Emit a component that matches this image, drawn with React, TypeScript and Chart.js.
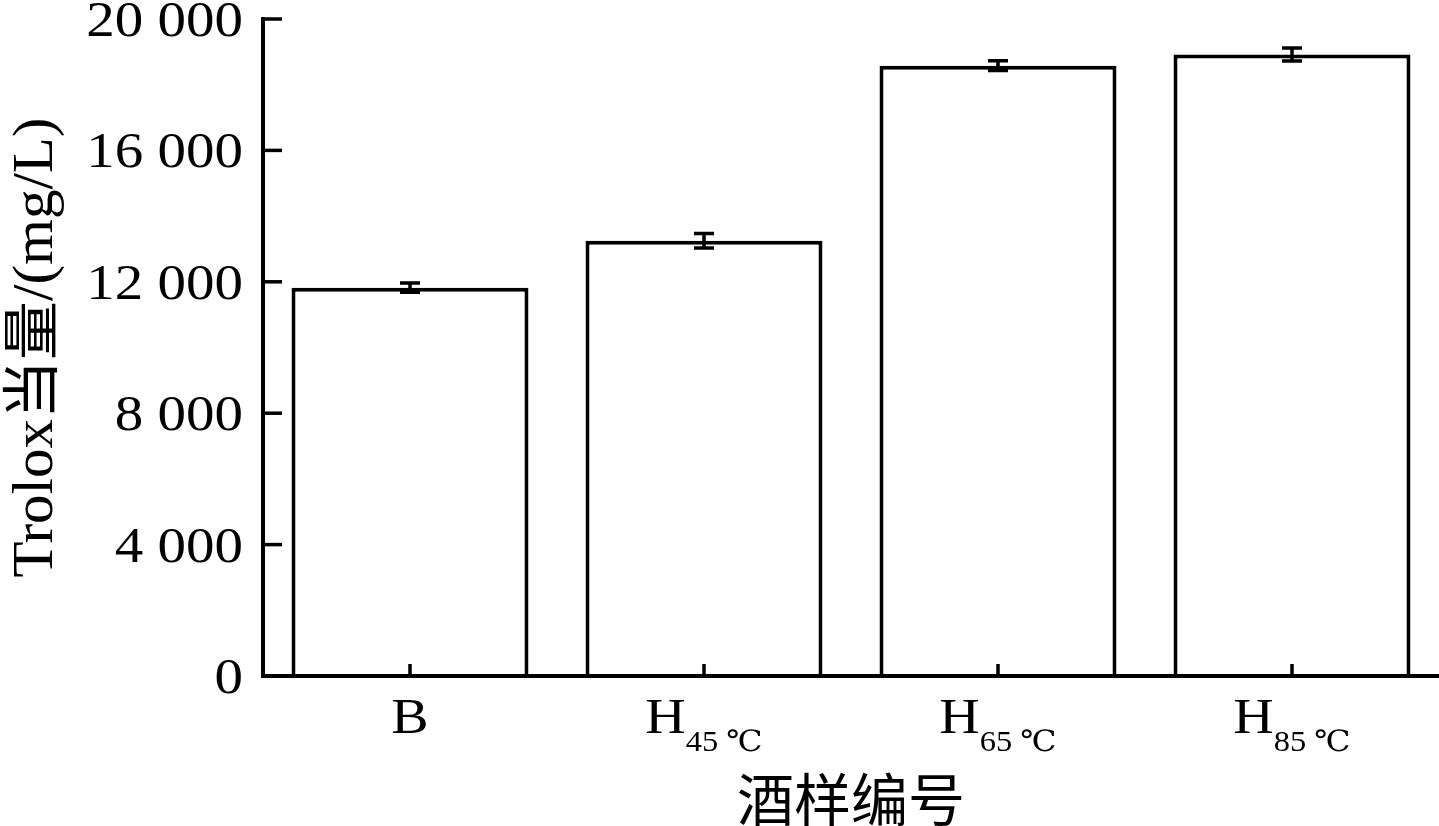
import React, { useEffect, useRef } from 'react';
import { Chart, registerables } from 'chart.js';

Chart.register(...registerables);

const categories = ['B', 'H45', 'H65', 'H85'];
const labelMain = ['B', 'H', 'H', 'H'];
const labelSub = ['', '45 ℃', '65 ℃', '85 ℃'];
const values = [11820, 13250, 18580, 18920];
const errors = [140, 220, 150, 200];
const yTicks = [0, 4000, 8000, 12000, 16000, 20000];
const yTickLabels = ['0', '4 000', '8 000', '12 000', '16 000', '20 000'];
const xTitle = '酒样编号';
const yTitle = 'Trolox当量/(mg/L)';

const SERIF = '"Liberation Serif", "DejaVu Serif", "Noto Sans CJK SC", serif';

function drawStretched(
  ctx: CanvasRenderingContext2D,
  text: string,
  x: number,
  y: number,
  font: string,
  sx: number,
  align: 'left' | 'right' | 'center'
) {
  ctx.save();
  ctx.font = font;
  ctx.textBaseline = 'alphabetic';
  ctx.textAlign = 'left';
  const w = ctx.measureText(text).width * sx;
  let x0 = x;
  if (align === 'right') x0 = x - w;
  else if (align === 'center') x0 = x - w / 2;
  ctx.translate(x0, y);
  ctx.scale(sx, 1);
  ctx.fillText(text, 0, 0);
  ctx.restore();
  return w;
}

export default function App() {
  const ref = useRef<HTMLCanvasElement>(null);

  useEffect(() => {
    const canvas = ref.current;
    if (!canvas) return;

    const overlay = {
      id: 'overlay',
      afterDatasetsDraw(chart: any) {
        const ctx: CanvasRenderingContext2D = chart.ctx;
        const xs = chart.scales.x;
        const ys = chart.scales.y;
        const area = chart.chartArea;
        ctx.save();
        ctx.strokeStyle = '#000';
        ctx.fillStyle = '#000';
        ctx.lineCap = 'butt';

        // error bars
        ctx.lineWidth = 3.5;
        values.forEach((v, i) => {
          const x = xs.getPixelForValue(i);
          const yHi = ys.getPixelForValue(v + errors[i]);
          const yLo = ys.getPixelForValue(v - errors[i]);
          ctx.beginPath();
          ctx.moveTo(x, yHi);
          ctx.lineTo(x, yLo);
          ctx.moveTo(x - 10, yHi);
          ctx.lineTo(x + 10, yHi);
          ctx.moveTo(x - 10, yLo);
          ctx.lineTo(x + 10, yLo);
          ctx.stroke();
        });

        // axes
        ctx.lineWidth = 4;
        const yTop = ys.getPixelForValue(yTicks[yTicks.length - 1]);
        const yBot = ys.getPixelForValue(0);
        ctx.beginPath();
        ctx.moveTo(area.left, yTop - 2);
        ctx.lineTo(area.left, yBot + 2);
        ctx.moveTo(area.left - 2, yBot);
        ctx.lineTo(area.right, yBot);
        ctx.stroke();

        // y ticks (inward)
        ctx.lineWidth = 3.5;
        yTicks.forEach((t) => {
          const y = ys.getPixelForValue(t);
          ctx.beginPath();
          ctx.moveTo(area.left, y);
          ctx.lineTo(area.left + 19, y);
          ctx.stroke();
        });
        // x ticks (inward)
        categories.forEach((_, i) => {
          const x = xs.getPixelForValue(i);
          ctx.beginPath();
          ctx.moveTo(x, yBot);
          ctx.lineTo(x, yBot - 12);
          ctx.stroke();
        });

        // y tick labels
        yTicks.forEach((t, i) => {
          const y = ys.getPixelForValue(t);
          drawStretched(ctx, yTickLabels[i], area.left - 20, y + 17, `50px ${SERIF}`, 1.14, 'right');
        });

        // x tick labels with subscripts
        categories.forEach((_, i) => {
          const x = xs.getPixelForValue(i);
          const mainFont = `50px ${SERIF}`;
          const subFont = `29px ${SERIF}`;
          const sx = 1.12;
          ctx.font = mainFont;
          const wMain = ctx.measureText(labelMain[i]).width * sx;
          let wSub = 0;
          if (labelSub[i]) {
            ctx.font = subFont;
            wSub = ctx.measureText(labelSub[i]).width * sx;
          }
          const total = wMain + wSub;
          const x0 = x - total / 2;
          drawStretched(ctx, labelMain[i], x0, yBot + 57, mainFont, sx, 'left');
          if (labelSub[i]) {
            drawStretched(ctx, labelSub[i], x0 + wMain, yBot + 75, subFont, sx, 'left');
          }
        });

        // x title
        ctx.font = '57px "Noto Sans CJK SC", sans-serif';
        ctx.textAlign = 'center';
        ctx.textBaseline = 'alphabetic';
        ctx.fillText(xTitle, (area.left + area.right) / 2, 821);

        // y title
        ctx.save();
        ctx.translate(52, (area.top + area.bottom) / 2);
        ctx.rotate(-Math.PI / 2);
        ctx.font = `58px ${SERIF}`;
        const natural = ctx.measureText(yTitle).width;
        const sxT = 460 / natural;
        ctx.scale(sxT, 1);
        ctx.textAlign = 'center';
        ctx.textBaseline = 'alphabetic';
        ctx.fillText(yTitle, 0, 0);
        ctx.restore();

        ctx.restore();
      },
    };

    const chart = new Chart(canvas, {
      type: 'bar',
      data: {
        labels: categories,
        datasets: [
          {
            data: values,
            backgroundColor: '#ffffff',
            borderColor: '#000000',
            borderWidth: 4,
            barPercentage: 0.806,
            categoryPercentage: 1,
          },
        ],
      },
      options: {
        responsive: false,
        animation: false,
        devicePixelRatio: 1,
        layout: { padding: { left: 263, right: 0, top: 19, bottom: 150 } },
        plugins: { legend: { display: false }, tooltip: { enabled: false } },
        scales: {
          x: { display: false },
          y: { display: false, min: 0, max: 20000 },
        },
      },
      plugins: [overlay],
    });

    return () => chart.destroy();
  }, []);

  return (
    <div style={{ position: 'fixed', left: 0, top: 0, width: 1439, height: 826, background: '#fff' }}>
      <canvas ref={ref} width={1439} height={826} style={{ display: 'block' }} />
    </div>
  );
}
